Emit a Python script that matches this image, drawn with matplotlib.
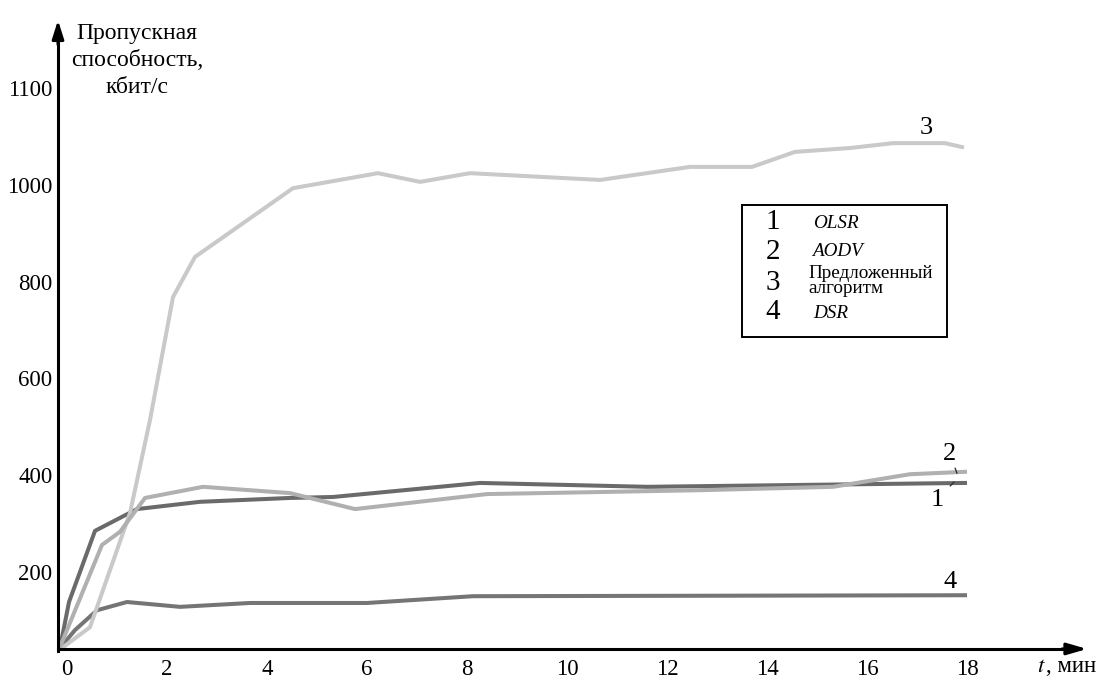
import matplotlib.pyplot as plt
from matplotlib.patches import Rectangle

plt.rcParams['font.family'] = ['Liberation Serif', 'DejaVu Serif']

# time, min
t_olsr = [-0.14, 0.04, 0.56, 1.40, 2.66, 4.46, 5.32, 8.26, 11.6, 17.96]
v_olsr = [43, 138, 285, 330, 345, 353, 355, 384, 376, 384]

t_aodv = [-0.14, 0.70, 1.06, 1.56, 2.72, 4.46, 5.76, 8.40, 12.66, 15.32, 16.86, 17.96]
v_aodv = [45, 256, 283, 353, 376, 363, 330, 361, 369, 376, 402, 407]

t_prop = [-0.10, 0.46, 1.26, 1.66, 2.12, 2.56, 4.52, 6.22, 7.06, 8.06, 10.66,
          12.46, 13.70, 14.56, 15.66, 16.52, 17.56, 17.90]
v_prop = [43, 86, 322, 514, 768, 851, 993, 1024, 1006, 1024, 1010,
          1037, 1037, 1068, 1076, 1086, 1086, 1078]

t_dsr = [-0.14, 0.16, 0.60, 1.20, 2.26, 3.66, 6.0, 8.12, 17.96]
v_dsr = [43, 80, 121, 138, 128, 136, 136, 150, 152]

x_ticks = [0, 2, 4, 6, 8, 10, 12, 14, 16, 18]
y_ticks = [200, 400, 600, 800, 1000, 1200]
y_tick_labels = ['200', '400', '600', '800', '1000', '1100']

legend_nums = ['1', '2', '3', '4']
legend_names = ['OLSR', 'AODV', 'Предложенный\nалгоритм', 'DSR']

fig = plt.figure(figsize=(11.08, 6.81), dpi=100)
ax = fig.add_axes([0, 0, 1, 1])
ax.set_xlim(-1.34, 20.82)
ax.set_ylim(-25.2, 1381.8)

x0, y0 = -0.18, 41  # where the axes cross

ax.plot(t_dsr, v_dsr, color='#757575', lw=2.9, solid_joinstyle='round')
ax.plot(t_olsr, v_olsr, color='#6a6a6a', lw=2.9, solid_joinstyle='round')
ax.plot(t_prop, v_prop, color='#c9c9c9', lw=2.9, solid_joinstyle='round')
ax.plot(t_aodv, v_aodv, color='#b0b0b0', lw=2.9, solid_joinstyle='round')

# axes with arrows
for s in ['top', 'right']:
    ax.spines[s].set_visible(False)
ax.spines['left'].set_position(('data', x0))
ax.spines['bottom'].set_position(('data', y0))
ax.spines['left'].set_bounds(y0 - 5, 1310)
ax.spines['bottom'].set_bounds(x0, 20.1)
ax.spines['left'].set_linewidth(2.2)
ax.spines['bottom'].set_linewidth(2.2)
ax.annotate('', xy=(x0, 1340), xytext=(x0, 1290),
            arrowprops=dict(arrowstyle='-|>,head_length=1.1,head_width=0.35',
                            color='k', lw=2.2, shrinkA=0, shrinkB=0))
ax.annotate('', xy=(20.4, y0), xytext=(19.9, y0),
            arrowprops=dict(arrowstyle='-|>,head_length=1.2,head_width=0.35',
                            color='k', lw=2.2, shrinkA=0, shrinkB=0))

ax.set_xticks(x_ticks)
ax.set_xticklabels([str(x) for x in x_ticks])
ax.set_yticks(y_ticks)
ax.set_yticklabels(y_tick_labels)
ax.tick_params(length=0, labelsize=16.5)
ax.tick_params(axis='x', pad=7)
ax.tick_params(axis='y', pad=4)

# axis titles
ax.text(137 / 1108, 1 - 23 / 681, 'Пропускная\nспособность,\nкбит/с',
        transform=ax.transAxes, ha='center', va='top', fontsize=17,
        linespacing=1.38)
ax.text(1037 / 1108, 1 - 667 / 681, '$t$', transform=ax.transAxes,
        ha='left', va='center', fontsize=16.5, math_fontfamily='stix')
ax.text(1046 / 1108, 1 - 667 / 681, ', мин', transform=ax.transAxes,
        ha='left', va='center', fontsize=16.5)

# line labels
ax.text(17.18, 1117, '3', ha='center', va='center', fontsize=19)
ax.text(17.66, 179, '4', ha='center', va='center', fontsize=19)
ax.annotate('2', xy=(17.80, 404), xytext=(17.66, 443), ha='center', va='center',
            fontsize=19, arrowprops=dict(arrowstyle='-', lw=1.0, color='#333333',
                                         shrinkA=4, shrinkB=0))
ax.annotate('1', xy=(17.74, 386), xytext=(17.40, 349), ha='center', va='center',
            fontsize=19, arrowprops=dict(arrowstyle='-', lw=1.0, color='#333333',
                                         shrinkA=4, shrinkB=0))

# legend box
fx = lambda px: px / 1108
fy = lambda py: 1 - py / 681
ax.add_patch(Rectangle((fx(742), fy(337)), fx(947) - fx(742), fy(205) - fy(337),
                       transform=ax.transAxes, fill=False, lw=1.4, ec='k'))
num_y = [222, 252, 283, 312]
name_y = [223, 252, 281, 313]
name_x = [813, 812, 808, 813]
for i in range(4):
    ax.text(fx(773), fy(num_y[i]), legend_nums[i], transform=ax.transAxes,
            ha='center', va='center', fontsize=21)
    style = 'normal' if i == 2 else 'italic'
    ax.text(fx(name_x[i]), fy(name_y[i]), legend_names[i], transform=ax.transAxes,
            ha='left', va='center', fontsize=13.8, style=style, linespacing=0.78)

fig.savefig('out.png', dpi=100)
